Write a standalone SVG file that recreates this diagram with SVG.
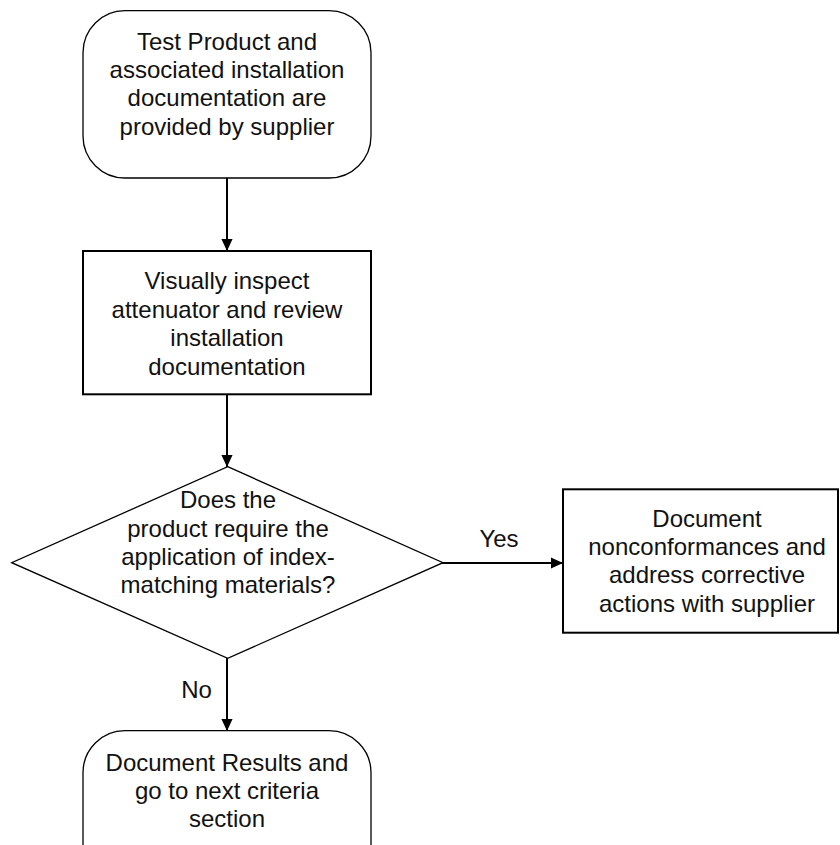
<svg xmlns="http://www.w3.org/2000/svg" width="840" height="845" viewBox="0 0 840 845">
<style>
.t{font-family:"Liberation Sans",Arial,sans-serif;font-size:24px;fill:#111;text-anchor:middle}
.thin{fill:#fff;stroke:#000;stroke-width:1.3}
.box{fill:#fff;stroke:#000;stroke-width:2}
.c{fill:none;stroke:#000;stroke-width:2}
</style>
<defs>
<marker id="ah" markerWidth="12" markerHeight="14" refX="14" refY="6.5" orient="auto" markerUnits="userSpaceOnUse" viewBox="0 0 14 13">
<path d="M0,0 L14,6.5 L0,13 Z" fill="#000"/>
</marker>
</defs>
<rect width="840" height="845" fill="#fff"/>
<g id="connectors">
<line class="c" x1="227" y1="178" x2="227" y2="251" marker-end="url(#ah)"/>
<line class="c" x1="227" y1="394" x2="227" y2="467" marker-end="url(#ah)"/>
<line class="c" x1="442" y1="563" x2="563" y2="563" marker-end="url(#ah)"/>
<line class="c" x1="227" y1="658" x2="227" y2="731" marker-end="url(#ah)"/>
<text class="t" x="499" y="546.7">Yes</text>
<text class="t" x="196.5" y="698">No</text>
</g>
<g id="start">
<rect class="thin" x="83" y="10.7" width="288" height="167.3" rx="42" ry="42"/>
<text class="t" x="227" y="50">Test Product and</text>
<text class="t" x="227" y="78">associated installation</text>
<text class="t" x="227" y="106.3">documentation are</text>
<text class="t" x="227" y="134.5">provided by supplier</text>
</g>
<g id="inspect">
<rect class="box" x="83" y="251" width="288" height="143.3"/>
<text class="t" x="227" y="289.3">Visually inspect</text>
<text class="t" x="227" y="317.7">attenuator and review</text>
<text class="t" x="227" y="346.1">installation</text>
<text class="t" x="227" y="374.5">documentation</text>
</g>
<g id="decision">
<polygon class="thin" stroke-width="1" points="227.7,466.7 443,562.7 227.7,658.3 11.7,562.7"/>
<text class="t" x="228" y="508.3">Does the</text>
<text class="t" x="228" y="536.5">product require the</text>
<text class="t" x="228" y="564.5">application of index-</text>
<text class="t" x="228" y="592.7">matching materials?</text>
</g>
<g id="nonconform">
<rect class="box" x="563" y="489.3" width="275" height="143.4"/>
<text class="t" x="707" y="526.7">Document</text>
<text class="t" x="707" y="555">nonconformances and</text>
<text class="t" x="707" y="583.3">address corrective</text>
<text class="t" x="707" y="611.7">actions with supplier</text>
</g>
<g id="results">
<rect class="thin" x="83" y="730.7" width="288" height="160" rx="42" ry="42"/>
<text class="t" x="227" y="770.7">Document Results and</text>
<text class="t" x="227" y="799">go to next criteria</text>
<text class="t" x="227" y="827.3">section</text>
</g>
</svg>
